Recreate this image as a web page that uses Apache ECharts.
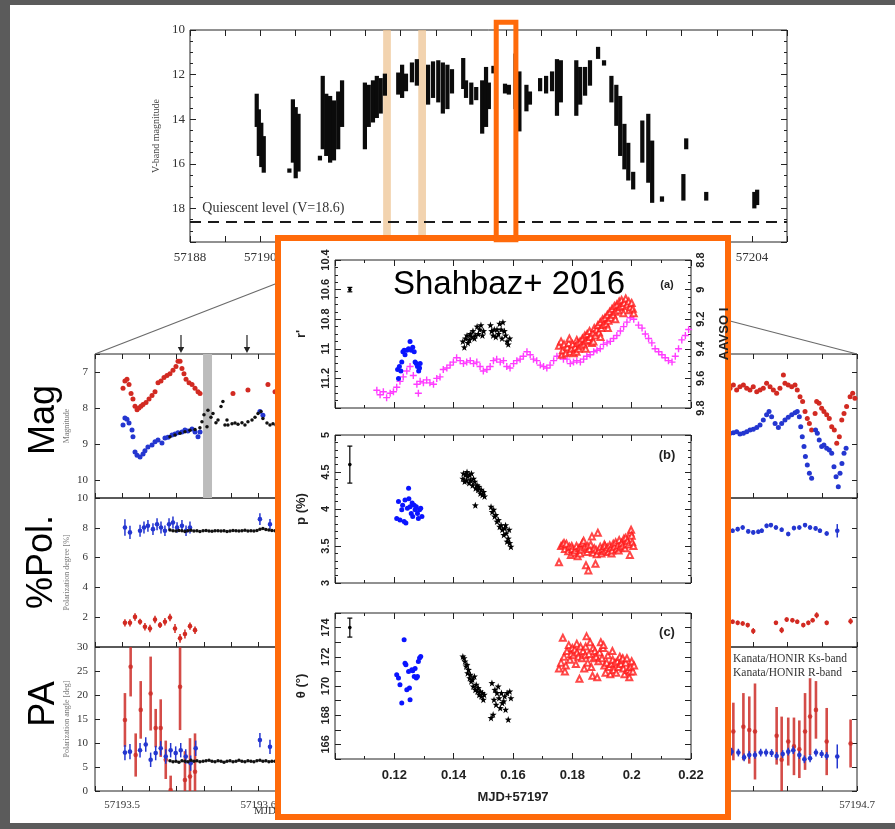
<!DOCTYPE html>
<html><head><meta charset="utf-8">
<script src="https://cdn.jsdelivr.net/npm/echarts/dist/echarts.min.js"></script>
<style>html,body{margin:0;padding:0;background:#5b5b5b;}#c{width:895px;height:829px;}</style>
</head><body><div id="c"></div><script>
// ================= DATA =================
// Top panel: V-band light curve. Each entry = [MJD, brightest mag, faintest mag] of a dense nightly clump
const vBandClumps = [
 [57189.90,12.9,14.3],[57189.96,13.6,15.6],[57190.03,14.2,16.1],[57190.10,14.8,16.35],
 [57190.83,16.25,16.35],[57190.93,13.15,15.9],[57191.01,13.5,16.6],[57191.09,13.8,16.3],
 [57191.70,15.68,15.8],[57191.78,12.1,15.3],[57191.88,12.9,15.6],[57191.99,13.0,15.9],[57192.10,13.2,15.8],[57192.22,12.8,15.3],[57192.33,12.3,14.3],
 [57192.98,12.4,15.3],[57193.09,12.5,14.3],[57193.21,12.3,14.1],[57193.32,12.1,13.9],[57193.43,12.2,13.7],[57193.55,12.0,12.9],
 [57193.93,11.95,12.85],[57194.04,11.6,13.0],[57194.15,12.0,12.7],[57194.32,11.5,12.3],[57194.46,11.35,12.45],
 [57194.78,11.6,13.3],[57194.92,11.45,13.0],[57195.07,11.4,13.2],[57195.20,11.5,13.7],[57195.33,11.6,13.5],[57195.46,11.8,12.8],
 [57195.78,11.3,12.6],[57195.86,12.3,13.0],[57196.01,12.4,13.3],[57196.15,12.6,13.1],
 [57196.32,12.3,14.6],[57196.43,11.7,14.3],[57196.51,12.4,13.5],[57196.64,11.65,11.9],
 [57196.97,12.45,12.8],[57197.08,12.5,12.85],[57197.27,11.1,13.5],[57197.38,11.9,14.5],
 [57197.58,12.5,13.6],[57197.68,12.8,13.3],
 [57197.97,12.2,12.7],[57198.14,12.1,12.8],[57198.31,11.9,12.7],[57198.45,11.35,13.8],[57198.56,11.4,13.2],
 [57199.00,11.4,13.8],[57199.11,11.7,13.3],[57199.25,11.7,12.9],[57199.39,11.4,12.45],
 [57199.62,10.8,11.25],[57199.79,11.4,11.55],
 [57200.00,12.1,13.2],[57200.14,12.5,14.25],[57200.25,13.0,15.6],[57200.37,14.25,16.2],[57200.48,15.1,16.7],[57200.62,16.4,17.1],
 [57200.88,14.1,15.9],[57201.05,13.8,16.8],[57201.16,15.0,17.7],[57201.44,17.5,17.65],
 [57202.05,16.5,17.6],[57202.13,14.9,15.3],[57202.70,17.3,17.6],
 [57204.07,17.3,17.95],[57204.15,17.2,17.8]
];
const lcTicks = [57188, 57190, 57192, 57194, 57196, 57198, 57200, 57202, 57204];
const quiescentLevel = 18.6;
const outburstBands = [[57193.50, 57193.72], [57194.50, 57194.72]];
const zoomBoxMJD = [57196.72, 57197.28];

// Bottom panels: two observing nights; x values are day fractions added to the night's integer MJD
const NIGHT1 = 57193, NIGHT2 = 57194;
const nightWindows = [[57193.48, 57193.76], [57194.48, 57194.70]];
const grayBand = [[0.5594, 0.5660]];
const arrowsFrac = [0.5432, 0.5917];

const magRed1 = [[.5006,7.45],[.5020,7.25],[.5035,7.2],[.5050,7.35],[.5065,7.6],[.5079,7.75],[.5094,7.95],[.5109,8.05],[.5123,8.0],[.5138,7.95],[.5153,7.9],[.5175,7.85],[.5197,7.75],[.5219,7.65],[.5241,7.55],[.5263,7.3],[.5285,7.25],[.5307,7.15],[.5329,7.1],[.5351,7.05],[.5373,6.95],[.5395,6.85],[.5410,6.7],[.5425,6.7],[.5439,6.9],[.5454,7.05],[.5469,7.2],[.5491,7.3],[.5513,7.35],[.5535,7.45],[.5557,7.55],[.5572,7.6],[.5814,7.6],[.5924,7.5],[.6071,7.35],[.6123,7.55]];
const magBlue1 = [[.5006,8.47],[.5020,8.28],[.5035,8.31],[.5050,8.42],[.5072,8.61],[.5079,8.8],[.5094,9.22],[.5109,9.31],[.5131,9.36],[.5153,9.28],[.5167,9.19],[.5189,9.08],[.5219,9.03],[.5241,8.94],[.5263,8.89],[.5292,8.97],[.5314,8.83],[.5336,8.81],[.5366,8.75],[.5388,8.72],[.5410,8.69],[.5439,8.67],[.5461,8.61],[.5483,8.64],[.5513,8.58],[.5535,8.67],[.5557,8.8],[.5572,8.67],[.6012,8.1],[.6034,8.2]];
const magBlack1 = [[.5351,8.8],[.5388,8.75],[.5425,8.7],[.5461,8.66],[.5498,8.62],[.5535,8.6],[.5571,8.55],[.5586,8.38],[.5601,8.19],[.5623,8.52],[.5630,8.06],[.5652,8.26],[.5667,8.15],[.5689,8.41],[.5704,8.33],[.5726,7.96],[.5740,7.82],[.5755,8.47],[.5770,8.33],[.5777,8.47],[.5807,8.44],[.5829,8.42],[.5851,8.45],[.5880,8.41],[.5902,8.47],[.5924,8.38],[.5954,8.33],[.5976,8.26],[.5998,8.15],[.6020,8.1],[.6034,8.29],[.6064,8.42],[.6086,8.47],[.6108,8.44],[.6130,8.47]];
const magRed2 = [[.6267,7.45],[.6286,7.36],[.6305,7.5],[.6324,7.41],[.6344,7.36],[.6363,7.45],[.6382,7.5],[.6401,7.41],[.6421,7.55],[.6440,7.5],[.6459,7.45],[.6478,7.31],[.6498,7.41],[.6517,7.5],[.6536,7.59],[.6555,7.45],[.6575,7.08],[.6584,7.31],[.6603,7.36],[.6623,7.41],[.6642,7.36],[.6655,7.5],[.6671,7.69],[.6686,7.82],[.6700,8.1],[.6713,8.29],[.6725,8.43],[.6738,8.61],[.6758,8.15],[.6767,7.82],[.6781,7.87],[.6796,8.01],[.6809,8.1],[.6825,8.19],[.6840,8.29],[.6854,8.52],[.6869,8.61],[.6883,8.98],[.6898,8.8],[.6912,8.33],[.6925,8.15],[.6940,7.96],[.6960,7.69],[.6975,7.59],[.6988,7.73]];
const magBlue2 = [[.6267,8.7],[.6286,8.69],[.6305,8.66],[.6324,8.72],[.6344,8.7],[.6363,8.66],[.6382,8.61],[.6401,8.59],[.6421,8.54],[.6440,8.47],[.6459,8.33],[.6478,8.19],[.6492,8.1],[.6507,8.24],[.6527,8.43],[.6546,8.54],[.6565,8.43],[.6584,8.33],[.6603,8.26],[.6623,8.19],[.6642,8.13],[.6655,8.1],[.6667,8.24],[.6675,8.52],[.6684,8.8],[.6694,9.07],[.6702,9.35],[.6713,9.58],[.6725,9.81],[.6738,9.95],[.6761,8.61],[.6771,8.7],[.6782,8.89],[.6796,9.07],[.6809,9.03],[.6825,9.12],[.6840,9.17],[.6854,9.26],[.6867,9.63],[.6879,9.91],[.6892,10.19],[.6902,9.81],[.6913,9.54],[.6925,9.26],[.6937,9.12]];

// polarization degree [%]: [fraction, value, error]
const polBlue1 = [[.5020,8.02,.55],[.5057,7.69,.45],[.5131,7.8,.4],[.5160,8.02,.4],[.5189,8.13,.4],[.5226,7.91,.4],[.5256,8.24,.4],[.5285,8.02,.4],[.5314,7.8,.35],[.5344,8.24,.4],[.5373,8.36,.4],[.5403,8.02,.35],[.5439,8.13,.4],[.5469,7.8,.35],[.5498,8.02,.4],[.6012,8.58,.4],[.6086,8.24,.35]];
const polRed1 = [[.5020,1.62,.25],[.5057,1.62,.25],[.5094,2.02,.25],[.5131,1.69,.2],[.5167,1.36,.25],[.5204,1.24,.25],[.5241,1.84,.25],[.5278,1.47,.2],[.5314,1.69,.25],[.5351,1.98,.25],[.5388,1.24,.3],[.5425,0.58,.3],[.5461,0.87,.3],[.5498,1.4,.25],[.5535,1.13,.25]];
const blackFrac1 = [.5351,.5373,.5395,.5417,.5439,.5461,.5483,.5505,.5527,.5549,.5571,.5594,.5616,.5638,.5660,.5682,.5704,.5726,.5748,.5770,.5792,.5814,.5836,.5858,.5880,.5902,.5924,.5946,.5968,.5990,.6012,.6034,.6056,.6078,.6100,.6123];
const polBlack1 = [7.85,7.8,7.78,7.82,7.8,7.75,7.8,7.83,7.78,7.8,7.76,7.8,7.82,7.79,7.77,7.8,7.81,7.78,7.8,7.76,7.79,7.82,7.8,7.78,7.8,7.83,7.79,7.8,7.78,7.82,7.9,7.95,7.88,7.85,7.82,7.8];
const polBlue2 = [[.6282,7.8,.15],[.6311,7.91,.15],[.6340,8.02,.15],[.6372,7.76,.15],[.6401,7.69,.15],[.6430,7.73,.15],[.6450,7.8,.15],[.6478,8.13,.15],[.6503,8.18,.15],[.6532,8.02,.15],[.6565,7.87,.15],[.6603,7.58,.15],[.6636,7.98,.15],[.6667,8.02,.15],[.6700,8.18,.15],[.6729,8.02,.15],[.6761,7.96,.15],[.6786,7.8,.15],[.6825,7.62,.15],[.6886,7.8,.45]];
const polRed2 = [[.6282,1.69,.15],[.6311,1.62,.15],[.6340,1.58,.15],[.6369,1.47,.15],[.6401,1.07,.2],[.6532,1.62,.15],[.6565,1.13,.2],[.6594,1.84,.15],[.6627,1.8,.15],[.6655,1.69,.15],[.6690,1.47,.15],[.6719,1.62,.15],[.6744,1.8,.15],[.6767,2.13,.2],[.6825,1.62,.15],[.6963,1.73,.2]];

// polarization angle [deg]: [fraction, value, error]
const paRed1 = [[.5020,14.8,5.6],[.5062,25.9,6.2],[.5099,7.5,4.5],[.5136,16.9,6],[.5209,20.3,7.7],[.5246,13.1,4],[.5283,13.1,6],[.5320,6.5,4],[.5356,0.2,3],[.5425,21.7,9],[.5461,2.3,6],[.5498,3.0,8],[.5535,4.0,8]];
const paBlue1 = [[.5020,8.0,1.6],[.5057,8.2,1.6],[.5131,8.5,1.5],[.5173,9.7,1.5],[.5209,6.5,1.5],[.5246,7.9,1.5],[.5283,8.9,1.5],[.5320,7.2,1.5],[.5356,8.5,1.5],[.5393,7.9,1.4],[.5430,8.5,1.5],[.5467,7.2,1.5],[.5503,5.8,1.6],[.5540,8.9,1.6],[.6012,10.6,1.5],[.6086,9.2,1.5]];
const paBlack1 = [6.3,6.1,6.2,6.0,6.3,6.2,6.1,6.4,6.2,6.3,6.1,6.2,6.3,6.4,6.2,6.1,6.3,6.2,6.0,6.2,6.3,6.1,6.2,6.4,6.2,6.1,6.3,6.2,6.1,6.3,6.4,6.2,6.3,6.1,6.2,6.2];
const paRed2 = [[.6286,12.4,6],[.6344,13.4,7],[.6378,12.7,7],[.6411,12.4,10],[.6536,11.5,6],[.6565,6.5,9],[.6603,10.3,5],[.6636,9.3,6],[.6667,8.7,6],[.6700,12.4,8],[.6729,15.5,8],[.6763,16.9,6],[.6825,10.3,7],[.6963,9.9,5]];
const paBlue2 = [[.6276,8.2,.8],[.6315,8.0,.8],[.6348,7.0,.8],[.6378,7.5,.8],[.6411,7.5,.8],[.6444,8.0,.8],[.6475,8.0,.8],[.6507,7.9,.8],[.6536,7.3,.8],[.6571,7.7,.8],[.6603,8.2,.8],[.6632,8.5,.8],[.6667,7.5,.8],[.6696,6.6,.8],[.6729,6.8,.8],[.6763,8.0,.8],[.6796,7.7,.8],[.6825,7.3,.8],[.6886,7.2,2.5]];

// Inset (Shahbaz+ 2016): x = MJD - 57197
const insetErrA = [[0.105,10.6,0.015]], insetErrB = [[0.105,4.6,0.25]], insetErrC = [[0.105,174.0,0.65]];
const rBlue = [[.1211,11.14],[.1214,11.2],[.1217,11.12],[.1222,11.15],[.1225,11.09],[.1229,11.02],[.1233,11.01],[.1236,11.04],[.1242,11.01],[.1248,11.0],[.1253,10.95],[.1257,11.01],[.1262,10.99],[.1267,11.02],[.1270,11.09],[.1274,11.1],[.1278,11.12],[.1282,11.15],[.1285,11.13],[.1287,11.1]];
const rBlack = [[.1431,10.95],[.1436,10.99],[.1440,10.93],[.1445,10.91],[.1448,10.96],[.1453,10.94],[.1456,10.9],[.1461,10.92],[.1465,10.88],[.1470,10.93],[.1473,10.91],[.1479,10.85],[.1483,10.9],[.1488,10.87],[.1492,10.84],[.1497,10.91],[.1501,10.88],[.1524,10.84],[.1528,10.88],[.1533,10.91],[.1537,10.87],[.1542,10.92],[.1546,10.87],[.1551,10.9],[.1555,10.83],[.1560,10.87],[.1563,10.93],[.1566,10.82],[.1571,10.88],[.1575,10.91],[.1580,10.95],[.1584,10.97],[.1589,10.93]];
const rRed = [[.1755,10.98],[.1762,10.95],[.1765,11.04],[.1768,11.01],[.1772,10.97],[.1778,11.03],[.1783,10.99],[.1788,10.96],[.1790,10.93],[.1792,11.02],[.1797,11.0],[.1801,10.97],[.1805,11.03],[.1810,10.99],[.1814,11.02],[.1815,10.94],[.1818,10.96],[.1822,11.0],[.1826,10.95],[.1830,10.98],[.1834,10.93],[.1838,10.97],[.1842,10.91],[.1845,11.0],[.1846,10.95],[.1850,10.9],[.1854,10.94],[.1858,10.88],[.1862,10.92],[.1866,10.96],[.1870,10.89],[.1871,10.95],[.1874,10.86],[.1878,10.91],[.1882,10.87],[.1886,10.84],[.1890,10.89],[.1894,10.82],[.1895,10.92],[.1898,10.86],[.1902,10.8],[.1906,10.84],[.1910,10.79],[.1914,10.83],[.1918,10.77],[.1920,10.86],[.1922,10.81],[.1926,10.75],[.1930,10.79],[.1934,10.73],[.1938,10.77],[.1942,10.71],[.1945,10.8],[.1946,10.75],[.1950,10.7],[.1954,10.74],[.1958,10.68],[.1962,10.72],[.1966,10.67],[.1970,10.71],[.1972,10.76],[.1975,10.69],[.1980,10.66],[.1985,10.7],[.1990,10.68],[.1992,10.74],[.1995,10.72],[.2000,10.69],[.2004,10.73],[.2007,10.76]];
const aavsoI = [[.1141,9.68],[.1152,9.71],[.1163,9.69],[.1174,9.73],[.1186,9.7],[.1197,9.69],[.1208,9.66],[.1219,9.62],[.1230,9.59],[.1242,9.55],[.1253,9.52],[.1264,9.58],[.1276,9.64],[.1281,9.7],[.1287,9.62],[.1298,9.63],[.1309,9.61],[.1320,9.63],[.1332,9.64],[.1343,9.6],[.1354,9.59],[.1365,9.54],[.1377,9.53],[.1388,9.51],[.1399,9.49],[.1410,9.46],[.1422,9.48],[.1433,9.5],[.1444,9.49],[.1456,9.48],[.1467,9.5],[.1478,9.49],[.1489,9.52],[.1500,9.55],[.1512,9.54],[.1523,9.52],[.1534,9.48],[.1545,9.47],[.1557,9.49],[.1568,9.48],[.1579,9.52],[.1590,9.53],[.1602,9.5],[.1613,9.48],[.1624,9.47],[.1635,9.45],[.1647,9.42],[.1658,9.44],[.1669,9.47],[.1680,9.48],[.1692,9.51],[.1703,9.52],[.1714,9.53],[.1725,9.51],[.1737,9.48],[.1748,9.45],[.1759,9.45],[.1770,9.47],[.1782,9.47],[.1793,9.5],[.1804,9.49],[.1815,9.48],[.1827,9.49],[.1838,9.47],[.1849,9.45],[.1860,9.44],[.1872,9.42],[.1883,9.41],[.1894,9.4],[.1905,9.37],[.1917,9.36],[.1928,9.35],[.1939,9.33],[.1950,9.31],[.1962,9.28],[.1973,9.25],[.1984,9.22],[.1995,9.19],[.2007,9.2],[.2023,9.24],[.2035,9.26],[.2046,9.3],[.2057,9.33],[.2068,9.36],[.2079,9.4],[.2091,9.42],[.2102,9.44],[.2113,9.46],[.2124,9.48],[.2136,9.49],[.2147,9.45],[.2158,9.4],[.2169,9.34],[.2181,9.31],[.2192,9.27]];
const pBlue = [[.1208,3.87],[.1214,4.1],[.1219,3.85],[.1225,3.99],[.1228,4.05],[.1233,3.83],[.1236,4.12],[.1239,3.81],[.1244,4.01],[.1248,4.28],[.1249,4.14],[.1253,4.03],[.1257,3.94],[.1260,4.08],[.1262,3.9],[.1267,4.05],[.1270,3.99],[.1274,4.03],[.1278,3.94],[.1281,3.87],[.1285,3.99],[.1289,4.01],[.1293,3.9]];
const pBlack = [[.1431,4.41],[.1433,4.48],[.1437,4.37],[.1440,4.46],[.1443,4.39],[.1445,4.5],[.1448,4.44],[.1452,4.35],[.1454,4.46],[.1457,4.39],[.1460,4.48],[.1464,4.32],[.1467,4.41],[.1471,4.37],[.1474,4.28],[.1479,4.32],[.1482,4.26],[.1485,4.3],[.1490,4.21],[.1493,4.26],[.1497,4.19],[.1501,4.23],[.1504,4.17],[.1473,4.05],[.1526,4.03],[.1530,3.96],[.1535,3.99],[.1538,3.9],[.1542,3.92],[.1546,3.83],[.1551,3.85],[.1555,3.76],[.1560,3.78],[.1564,3.72],[.1569,3.65],[.1572,3.74],[.1577,3.67],[.1580,3.56],[.1584,3.6],[.1589,3.54],[.1593,3.49],[.1587,3.72],[.1575,3.78]];
const pRed = [[.1755,3.28],[.1762,3.5],[.1768,3.52],[.1772,3.54],[.1775,3.46],[.1780,3.53],[.1786,3.43],[.1790,3.49],[.1795,3.38],[.1798,3.5],[.1800,3.46],[.1805,3.41],[.1810,3.44],[.1814,3.5],[.1818,3.36],[.1822,3.47],[.1826,3.4],[.1828,3.48],[.1830,3.45],[.1834,3.54],[.1838,3.57],[.1842,3.48],[.1846,3.24],[.1850,3.42],[.1852,3.5],[.1854,3.17],[.1858,3.46],[.1862,3.52],[.1866,3.63],[.1870,3.41],[.1874,3.47],[.1878,3.26],[.1880,3.45],[.1882,3.39],[.1886,3.68],[.1890,3.44],[.1894,3.49],[.1898,3.4],[.1902,3.46],[.1906,3.43],[.1908,3.52],[.1910,3.5],[.1914,3.45],[.1918,3.48],[.1922,3.42],[.1926,3.51],[.1930,3.47],[.1932,3.4],[.1934,3.44],[.1938,3.53],[.1942,3.49],[.1946,3.55],[.1950,3.46],[.1954,3.51],[.1956,3.44],[.1958,3.58],[.1962,3.48],[.1966,3.54],[.1970,3.5],[.1974,3.6],[.1978,3.47],[.1980,3.61],[.1982,3.53],[.1986,3.57],[.1990,3.52],[.1994,3.38],[.1996,3.68],[.1998,3.72],[.2000,3.64],[.2002,3.55],[.2006,3.5]];
const thBlue = [[.1208,170.77],[.1214,170.54],[.1219,170.09],[.1225,168.83],[.1233,173.16],[.1236,171.56],[.1239,171.45],[.1242,169.74],[.1248,171.0],[.1251,169.86],[.1253,169.06],[.1259,171.11],[.1262,171.05],[.1267,170.65],[.1270,171.2],[.1274,170.54],[.1278,170.65],[.1281,171.68],[.1285,171.91],[.1289,172.02]];
const thBlack = [[.1431,172.02],[.1435,171.91],[.1438,171.68],[.1442,171.34],[.1445,171.45],[.1447,170.88],[.1450,171.11],[.1454,170.54],[.1456,170.77],[.1459,170.31],[.1463,170.43],[.1466,169.97],[.1470,170.65],[.1473,169.74],[.1476,170.09],[.1480,169.63],[.1483,169.86],[.1486,169.4],[.1490,169.63],[.1493,169.29],[.1497,169.52],[.1500,169.06],[.1503,169.4],[.1526,167.81],[.1529,170.2],[.1533,168.04],[.1536,169.06],[.1539,169.74],[.1543,168.72],[.1546,169.52],[.1550,169.97],[.1553,169.17],[.1557,168.49],[.1561,169.52],[.1564,168.83],[.1569,168.95],[.1572,169.29],[.1575,168.38],[.1580,169.52],[.1584,167.7],[.1589,169.63],[.1593,169.17]];
const thRed = [[.1755,171.2],[.1762,171.6],[.1768,173.3],[.1772,172.0],[.1775,171.0],[.1778,171.4],[.1782,172.4],[.1788,172.8],[.1792,171.8],[.1796,172.2],[.1800,172.6],[.1804,172.1],[.1808,172.5],[.1812,171.5],[.1815,172.9],[.1816,172.3],[.1820,172.0],[.1824,170.5],[.1828,172.7],[.1832,171.9],[.1836,172.4],[.1840,171.2],[.1844,172.1],[.1845,172.7],[.1848,173.4],[.1852,171.6],[.1856,172.2],[.1860,173.0],[.1864,171.3],[.1868,170.7],[.1870,172.6],[.1872,171.9],[.1876,172.4],[.1880,172.0],[.1884,170.6],[.1888,171.7],[.1892,172.3],[.1896,173.0],[.1900,171.9],[.1904,172.6],[.1905,172.8],[.1908,171.4],[.1912,170.9],[.1916,171.6],[.1920,172.1],[.1924,171.3],[.1928,170.8],[.1932,171.5],[.1935,172.4],[.1936,171.8],[.1940,171.1],[.1944,171.6],[.1948,170.9],[.1952,171.7],[.1956,171.3],[.1960,172.0],[.1964,171.5],[.1968,171.8],[.1970,171.9],[.1972,171.2],[.1976,170.8],[.1980,171.6],[.1984,171.9],[.1988,171.1],[.1992,170.6],[.1995,171.0],[.1996,171.3],[.2000,171.7],[.2004,171.0],[.2008,171.4]];

// ================= CHART =================
const SERIF = 'Liberation Serif', SANS = 'Liberation Sans';
const INK = '#222';
const RED = '#d22a22', BLUE = '#2436d0';
const n1 = a => a.map(d => [NIGHT1 + d[0]].concat(d.slice(1)));
const n2 = a => a.map(d => [NIGHT2 + d[0]].concat(d.slice(1)));

function tick(len){ return {show:true, inside:true, length:len, lineStyle:{color:INK, width:1}}; }
function minor(n, len){ return {show:true, splitNumber:n, length:len||3, lineStyle:{color:INK, width:1}}; }
function ax(o){ return Object.assign({type:'value', axisLine:{show:false}, splitLine:{show:false}, axisLabel:{show:false}, axisTick:tick(5)}, o); }

const serifLab = (size, extra) => Object.assign({show:true, fontFamily:SERIF, fontSize:size, color:'#333'}, extra||{});
const insetLab = (size, extra) => Object.assign({show:true, fontFamily:SANS, fontWeight:'bold', fontSize:size, color:'#222'}, extra||{});
const tenthFmt = v => { const t = v*10; return Math.abs(t - Math.round(t)) < 1e-3 ? (Math.round(t)/10).toFixed(1) : ''; };

const gridFrame = (l,t,w,h,z) => ({left:l, top:t, width:w, height:h, show:true, borderColor:INK, borderWidth:1, backgroundColor:'transparent', z:z||0});
const grids = [
  gridFrame(190,30,597,212),        // 0 light curve
  gridFrame(95,354,381,144), gridFrame(476,354,381,144),   // 1,2 mag
  gridFrame(95,498,381,149), gridFrame(476,498,381,149),   // 3,4 pol
  gridFrame(95,647,381,144), gridFrame(476,647,381,144),   // 5,6 PA
  gridFrame(335,260,356,148,20), gridFrame(335,435,356,148,20), gridFrame(335,613,356,146,20) // 7,8,9 inset
];

const nightX = (g, k, pos, labels) => ax({gridIndex:g, position:pos, min:nightWindows[k][0], max:nightWindows[k][1], interval:0.02, axisTick:tick(5),
  axisLabel: labels ? serifLab(11, {margin:9, showMinLabel:true, showMaxLabel:true, formatter:tenthFmt}) : {show:false}});
const insetX = (g, pos, labels) => ax({gridIndex:g, position:pos, min:0.1, max:0.22, interval:0.02, z:20, axisTick:tick(6), minorTick:minor(2,3),
  axisLabel: labels ? insetLab(13, {margin:10, showMinLabel:false}) : {show:false}});

const xAxes = [
  ax({gridIndex:0, position:'bottom', min:57188, max:57205, interval:1, axisTick:tick(6),
      axisLabel:serifLab(13, {margin:9, formatter: v => lcTicks.indexOf(Math.round(v)) >= 0 ? String(Math.round(v)) : ''})}),
  ax({gridIndex:0, position:'top', min:57188, max:57205, interval:1, axisTick:tick(6)}),
  nightX(1,0,'bottom',false), nightX(1,0,'top',false),
  nightX(2,1,'bottom',false), nightX(2,1,'top',false),
  nightX(3,0,'bottom',false), nightX(4,1,'bottom',false),
  nightX(5,0,'bottom',true), nightX(6,1,'bottom',true),
  insetX(7,'bottom',false), insetX(7,'top',false),
  insetX(8,'bottom',false), insetX(8,'top',false),
  Object.assign(insetX(9,'bottom',true), {name:'MJD+57197', nameLocation:'middle', nameGap:32, nameTextStyle:{fontFamily:SANS, fontWeight:'bold', fontSize:13, color:'#222'}}),
  insetX(9,'top',false)
];

const smallName = (txt, gap) => ({name:txt, nameLocation:'middle', nameGap:gap, nameRotate:90, nameTextStyle:{fontFamily:SERIF, fontSize:8, color:'#777'}});
const insetName = (txt, gap) => ({name:txt, nameLocation:'middle', nameGap:gap, nameRotate:90, nameTextStyle:{fontFamily:SANS, fontWeight:'bold', fontSize:13, color:'#222'}});

const yAxes = [
  ax(Object.assign({gridIndex:0, position:'left', min:10, max:19.5, inverse:true, interval:2, axisTick:tick(6), minorTick:minor(4,3),
     axisLabel:serifLab(13, {margin:5, showMaxLabel:false})},
     {name:'V-band magnitude', nameLocation:'middle', nameGap:26, nameRotate:90, nameTextStyle:{fontFamily:SERIF, fontSize:10, color:'#444'}})),
  ax({gridIndex:0, position:'right', min:10, max:19.5, inverse:true, interval:2, axisTick:tick(6), minorTick:minor(4,3)}),
  ax(Object.assign({gridIndex:1, position:'left', min:6.5, max:10.5, inverse:true, splitNumber:4, axisTick:tick(5),
     axisLabel:serifLab(11, {margin:7, formatter: v => Number.isInteger(v) ? String(v) : ''})}, smallName('Magnitude', 24))),
  ax({gridIndex:2, position:'right', min:6.5, max:10.5, inverse:true, splitNumber:4, axisTick:tick(5)}),
  ax(Object.assign({gridIndex:3, position:'left', min:0, max:10, interval:2, axisTick:tick(5),
     axisLabel:serifLab(11, {margin:7, formatter: v => v === 0 ? '' : String(v)})}, smallName('Polarization degree [%]', 24))),
  ax({gridIndex:4, position:'right', min:0, max:10, interval:2, axisTick:tick(5)}),
  ax(Object.assign({gridIndex:5, position:'left', min:0, max:30, interval:5, axisTick:tick(5),
     axisLabel:serifLab(11, {margin:7})}, smallName('Polarization angle [deg]', 24))),
  ax({gridIndex:6, position:'right', min:0, max:30, interval:5, axisTick:tick(5)}),
  // inset (a)
  ax(Object.assign({gridIndex:7, position:'left', min:10.4, max:11.4, inverse:true, interval:0.2, z:20, axisTick:tick(6), minorTick:minor(4,3),
     axisLabel:insetLab(11, {rotate:90, margin:4, showMaxLabel:false})}, insetName("r'", 27))),
  ax(Object.assign({gridIndex:7, position:'right', min:8.8, max:9.8, inverse:true, interval:0.2, z:20, axisTick:tick(6), minorTick:minor(4,3),
     axisLabel:insetLab(11, {rotate:90, margin:4})}, insetName('AAVSO I', 27))),
  // inset (b)
  ax(Object.assign({gridIndex:8, position:'left', min:3, max:5, interval:0.5, z:20, axisTick:tick(6), minorTick:minor(5,3),
     axisLabel:insetLab(11, {rotate:90, margin:4})}, insetName('p (%)', 27))),
  ax({gridIndex:8, position:'right', min:3, max:5, interval:0.5, z:20, axisTick:tick(6), minorTick:minor(5,3)}),
  // inset (c)
  ax(Object.assign({gridIndex:9, position:'left', min:165, max:175, interval:1, z:20, axisTick:tick(6),
     axisLabel:insetLab(11, {rotate:90, margin:4, formatter: v => v % 2 === 0 ? String(v) : ''})}, insetName('θ (°)', 27))),
  ax({gridIndex:9, position:'right', min:165, max:175, interval:1, z:20, axisTick:tick(6)})
];

function rangeRenderer(params, api){
  const x = api.value(0);
  const a = api.coord([x, api.value(1)]), b = api.coord([x, api.value(2)]);
  const w = Math.max(api.size([0.12, 0])[0], 3);
  return {type:'rect', shape:{x:a[0]-w/2, y:Math.min(a[1],b[1])-1, width:w, height:Math.abs(b[1]-a[1])+2}, style:{fill:'#0b0b0b'}};
}
function bandRenderer(color){
  return function(params, api){
    const cs = params.coordSys;
    const a = api.coord([api.value(0), api.value(2)]), b = api.coord([api.value(1), api.value(2)]);
    return {type:'rect', shape:{x:a[0], y:cs.y, width:b[0]-a[0], height:cs.height}, style:{fill:color}};
  };
}
function errRenderer(color, lw, r, cap){
  return function(params, api){
    const x = api.value(0), y = api.value(1), e = api.value(2);
    const c = api.coord([x,y]), lo = api.coord([x,y-e]), hi = api.coord([x,y+e]);
    const ch = [{type:'line', shape:{x1:lo[0],y1:lo[1],x2:hi[0],y2:hi[1]}, style:{stroke:color, lineWidth:lw}}];
    if (cap) {
      ch.push({type:'line', shape:{x1:lo[0]-cap,y1:lo[1],x2:lo[0]+cap,y2:lo[1]}, style:{stroke:color, lineWidth:1.2}});
      ch.push({type:'line', shape:{x1:hi[0]-cap,y1:hi[1],x2:hi[0]+cap,y2:hi[1]}, style:{stroke:color, lineWidth:1.2}});
    }
    ch.push({type:'circle', shape:{cx:c[0], cy:c[1], r:r}, style:{fill:color}});
    return {type:'group', children:ch};
  };
}
const errSeries = (xi, yi, data, color, lw, r, cap, z) => ({type:'custom', xAxisIndex:xi, yAxisIndex:yi, data:data, clip:true, z:z||2, encode:{x:0, y:1}, renderItem:errRenderer(color, lw, r, cap), silent:true});
const dots = (xi, yi, data, color, size, symbol, z, extra) => Object.assign({type:'scatter', xAxisIndex:xi, yAxisIndex:yi, data:data, symbol:symbol||'circle', symbolSize:size, itemStyle:{color:color, opacity:1}, z:z||2, silent:true, clip:true}, extra||{});

const STAR = 'path://M5,0L6.2,3.6L10,3.7L7,6.1L8.1,10L5,7.7L1.9,10L3,6.1L0,3.7L3.8,3.6Z';
const PLUS = 'path://M4,0H6V4H10V6H6V10H4V6H0V4H4Z';

const series = [
  {type:'custom', xAxisIndex:0, yAxisIndex:0, data:outburstBands.map(b => [b[0], b[1], 15]), renderItem:bandRenderer('rgba(238,196,148,0.75)'), z:1, silent:true},
  {type:'custom', xAxisIndex:0, yAxisIndex:0, data:vBandClumps, encode:{x:0, y:[1,2]}, renderItem:rangeRenderer, clip:true, z:2, silent:true},
  {type:'line', xAxisIndex:0, yAxisIndex:0, data:[[57188, quiescentLevel],[57205, quiescentLevel]], symbol:'none', lineStyle:{color:'#1a1a1a', width:2, type:[11,7]}, z:3, silent:true},
  // mag
  {type:'custom', xAxisIndex:2, yAxisIndex:2, data:grayBand.map(b => [NIGHT1+b[0], NIGHT1+b[1], 8]), renderItem:bandRenderer('#bcbcbc'), z:1, silent:true},
  dots(2,2,n1(magRed1),RED,5),
  dots(2,2,n1(magBlue1),BLUE,5),
  dots(2,2,n1(magBlack1),'#111',3.5),
  dots(4,3,n2(magRed2),RED,5),
  dots(4,3,n2(magBlue2),BLUE,5),
  // pol
  errSeries(6,4,n1(polBlue1),BLUE,1.5,2.3,0),
  dots(6,4,blackFrac1.map((f,i) => [NIGHT1+f, polBlack1[i]]),'#111',3.5),
  errSeries(6,4,n1(polRed1),RED,1.5,2.3,0),
  errSeries(7,5,n2(polBlue2),BLUE,1.5,2.3,0),
  errSeries(7,5,n2(polRed2),RED,1.5,2.3,0),
  // PA
  errSeries(8,6,n1(paRed1),'rgba(205,45,40,0.85)',2.6,2.3,0),
  errSeries(8,6,n1(paBlue1),BLUE,1.5,2.3,0,3),
  dots(8,6,blackFrac1.map((f,i) => [NIGHT1+f, paBlack1[i]]),'#111',3.5,'circle',4),
  errSeries(9,7,n2(paRed2),'rgba(205,45,40,0.85)',2.6,2.3,0),
  errSeries(9,7,n2(paBlue2),BLUE,1.5,2.3,0,3),
  // inset (a)
  dots(10,9,aavsoI,'#ff3cff',7,PLUS,21),
  dots(10,8,rRed,'#ff1a1a',6,'emptyTriangle',22,{itemStyle:{color:'#ff1a1a', borderWidth:0.9}}),
  dots(10,8,rBlue,'#0a14ff',5,'circle',22),
  dots(10,8,rBlack,'#000',7,STAR,22),
  errSeries(10,8,insetErrA,'#000',1.2,1.8,2.5,22),
  // inset (b)
  dots(12,10,pRed,'#ff1a1a',6,'emptyTriangle',22,{itemStyle:{color:'#ff1a1a', borderWidth:0.9}}),
  dots(12,10,pBlue,'#0a14ff',5,'circle',22),
  dots(12,10,pBlack,'#000',7,STAR,22),
  errSeries(12,10,insetErrB,'#000',1.2,1.8,2.5,22),
  // inset (c)
  dots(14,12,thRed,'#ff1a1a',6,'emptyTriangle',22,{itemStyle:{color:'#ff1a1a', borderWidth:0.9}}),
  dots(14,12,thBlue,'#0a14ff',5,'circle',22),
  dots(14,12,thBlack,'#000',7,STAR,22),
  errSeries(14,12,insetErrC,'#000',1.2,1.8,2.5,22)
];

const chart = echarts.init(document.getElementById('c'), null, {renderer:'canvas', width:895, height:829});
chart.setOption({animation:false, backgroundColor:'#5b5b5b', grid:grids, xAxis:xAxes, yAxis:yAxes, series:series});

// ---------- decorations positioned through the chart's own scales ----------
const P = (g, v) => chart.convertToPixel({gridIndex:g}, v);
const bandL = P(0, [outburstBands[0][0], 19.5]);
const bandR = P(0, [outburstBands[1][1], 19.5]);
const magTL = P(1, [nightWindows[0][0], 6.5]);
const magTR = P(2, [nightWindows[1][1], 6.5]);
const boxA = P(0, [zoomBoxMJD[0], 9.65]);
const boxB = P(0, [zoomBoxMJD[1], 19.4]);
const qLab = P(0, [57188.35, quiescentLevel]);
const gfx = [
  {type:'rect', shape:{x:10, y:5, width:885, height:818}, style:{fill:'#ffffff'}, z:-50, silent:true},
  {type:'line', shape:{x1:bandL[0], y1:bandL[1], x2:magTL[0], y2:magTL[1]}, style:{stroke:'#6a6a6a', lineWidth:1.2}, z:1},
  {type:'line', shape:{x1:bandR[0], y1:bandR[1], x2:magTR[0], y2:magTR[1]}, style:{stroke:'#6a6a6a', lineWidth:1.2}, z:1},
  {type:'text', x:qLab[0], y:qLab[1]-7, style:{text:'Quiescent level (V=18.6)', fontFamily:SERIF, fontSize:14, fill:'#333', align:'left', verticalAlign:'bottom'}, z:3},
  {type:'text', x:44, y:420, rotation:Math.PI/2, style:{text:'Mag', fontFamily:SANS, fontSize:36, fill:'#000', align:'center', verticalAlign:'middle'}, z:1},
  {type:'text', x:42, y:562, rotation:Math.PI/2, style:{text:'%Pol.', fontFamily:SANS, fontSize:36, fill:'#000', align:'center', verticalAlign:'middle'}, z:1},
  {type:'text', x:44, y:704, rotation:Math.PI/2, style:{text:'PA', fontFamily:SANS, fontSize:36, fill:'#000', align:'center', verticalAlign:'middle'}, z:1},
  {type:'text', x:254, y:806, style:{text:'MJD', fontFamily:SERIF, fontSize:11, fill:'#333', align:'left', verticalAlign:'top'}, z:1},
  {type:'text', x:733, y:659, style:{text:'Kanata/HONIR Ks-band', fontFamily:SERIF, fontSize:11.5, fill:'#333', align:'left', verticalAlign:'middle'}, z:1},
  {type:'text', x:733, y:673, style:{text:'Kanata/HONIR R-band', fontFamily:SERIF, fontSize:11.5, fill:'#333', align:'left', verticalAlign:'middle'}, z:1},
  // inset panel
  {type:'rect', shape:{x:278, y:238, width:450, height:579}, style:{fill:'#ffffff', stroke:'#ff6a0a', lineWidth:6}, z:10, silent:true},
  {type:'rect', shape:{x:boxA[0], y:boxA[1], width:boxB[0]-boxA[0], height:boxB[1]-boxA[1]}, style:{fill:'none', stroke:'#ff6a0a', lineWidth:5}, z:11, silent:true},
  {type:'text', x:509, y:285, style:{text:'Shahbaz+ 2016', fontFamily:SANS, fontSize:33, fill:'#000', align:'center', verticalAlign:'middle'}, z:30},
  {type:'text', x:667, y:285, style:{text:'(a)', fontFamily:SANS, fontWeight:'bold', fontSize:11, fill:'#222', align:'center', verticalAlign:'middle'}, z:30},
  {type:'text', x:667, y:455, style:{text:'(b)', fontFamily:SANS, fontWeight:'bold', fontSize:13, fill:'#222', align:'center', verticalAlign:'middle'}, z:30},
  {type:'text', x:667, y:632, style:{text:'(c)', fontFamily:SANS, fontWeight:'bold', fontSize:13, fill:'#222', align:'center', verticalAlign:'middle'}, z:30}
];
arrowsFrac.forEach(f => {
  const p = P(1, [NIGHT1 + f, 6.5]);
  gfx.push({type:'line', shape:{x1:p[0], y1:p[1]-19, x2:p[0], y2:p[1]-5}, style:{stroke:'#222', lineWidth:1.2}, z:1});
  gfx.push({type:'polygon', shape:{points:[[p[0]-3.2,p[1]-7],[p[0]+3.2,p[1]-7],[p[0],p[1]-1]]}, style:{fill:'#222'}, z:1});
});
chart.setOption({graphic:{elements:gfx}});
</script></body></html>
